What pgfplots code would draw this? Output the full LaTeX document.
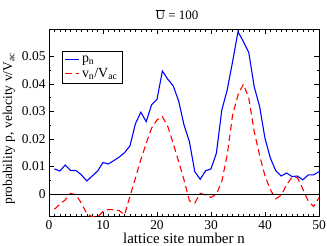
\documentclass[border=0pt]{standalone}
\usepackage{fontspec}
\setmainfont{Liberation Serif}
\usepackage{pgfplots}
\pgfplotsset{compat=1.18}
\begin{document}
\begin{tikzpicture}
\begin{axis}[
  scale only axis, width=270bp, height=187.2bp,
  xmin=0, xmax=50, ymin=-0.0083, ymax=0.0598,
  xtick={0,10,...,50}, ytick={0,0.01,0.02,0.03,0.04,0.05},
  minor x tick num=9, minor y tick num=1,
  scaled y ticks=false,
  yticklabel style={/pgf/number format/fixed, /pgf/number format/precision=2},
  /pgf/number format/assume math mode=true,
  tick label style={font=\fontsize{13.5}{14}\selectfont},
  major tick length=5bp, minor tick length=2.5bp,
  tick style={black, line width=0.5pt},
  axis line style={line width=0.6pt},
  xlabel={lattice site number n},
  ylabel={probability p, velocity v/V\textsubscript{ac}},
  xlabel style={font=\fontsize{15}{16}\selectfont},
  ylabel style={font=\fontsize{13.5}{14}\selectfont, at={(ticklabel cs:0.47)}},
  xlabel shift=-3bp,
  title={$\overline{\mathrm{U}}$ = 100},
  title style={font=\fontsize{13}{14}\selectfont, xshift=-7bp},
  legend style={at={(0.049,0.884)}, anchor=north west, draw=black, line width=0.4pt,
    font=\fontsize{14}{15}\selectfont, inner sep=2.5bp, row sep=0bp},
  legend cell align=left,
  legend image code/.code={\draw[#1] (0bp,0bp) -- (14bp,0bp);},
]
\addplot[blue, line width=1.1pt] coordinates {
(1,0.0091)(2,0.0083)(3,0.0105)(4,0.0085)(5,0.0085)(6,0.0069)(7,0.0047)(8,0.0065)
(9,0.0083)(10,0.0114)(11,0.0109)(12,0.0121)(13,0.0134)(14,0.0150)(15,0.0175)
(16,0.0255)(17,0.0297)(18,0.0263)(19,0.0324)(20,0.0344)(21,0.0447)(22,0.0417)
(23,0.0393)(24,0.0339)(25,0.0251)(26,0.0190)(27,0.0081)(28,0.0053)(29,0.0084)
(30,0.0091)(31,0.0148)(32,0.0305)(33,0.0378)(34,0.0481)(35,0.0590)(36,0.0554)
(37,0.0514)(38,0.0390)(39,0.0318)(40,0.0202)(41,0.0130)(42,0.0084)(43,0.0065)
(44,0.0076)(45,0.0063)(46,0.0065)(47,0.0051)(48,0.0069)(49,0.0069)(50,0.0081)
};
\addlegendentry{p\textsubscript{n}}
\addplot[red, line width=1.1pt, dash pattern=on 6.5bp off 4bp] coordinates {
(1,-0.0056)(2,-0.0038)(3,-0.0022)(4,0.0002)(5,-0.0004)(6,-0.0034)(7,-0.0072)
(8,-0.0083)(9,-0.0084)(10,-0.0064)(11,-0.0057)(12,-0.0057)(13,-0.0061)(14,-0.0076)
(15,-0.0008)(16,0.0057)(17,0.0124)(18,0.0184)(19,0.0239)(20,0.0269)(21,0.0281)
(22,0.0245)(23,0.0184)(24,0.0118)(25,0.0051)(26,-0.0025)(27,-0.0033)(28,0.0002)
(29,-0.0004)(30,-0.0013)(31,-0.0001)(32,0.0045)(33,0.0142)(34,0.0287)(35,0.0360)
(36,0.0399)(37,0.0348)(38,0.0227)(39,0.0140)(40,0.0065)(41,0.0015)(42,-0.0018)
(43,-0.0005)(44,0.0033)(45,0.0061)(46,0.0059)(47,0.0018)(48,-0.0026)(49,-0.0046)
(50,-0.0014)
};
\addlegendentry{v\textsubscript{n}/V\textsubscript{ac}}
\addplot[black, line width=0.6pt, forget plot] coordinates {(0,0)(50,0)};
\end{axis}
\pgfresetboundingbox
\path (-49bp,-29.3bp) rectangle (278bp,216.7bp);
\end{tikzpicture}
\end{document}
